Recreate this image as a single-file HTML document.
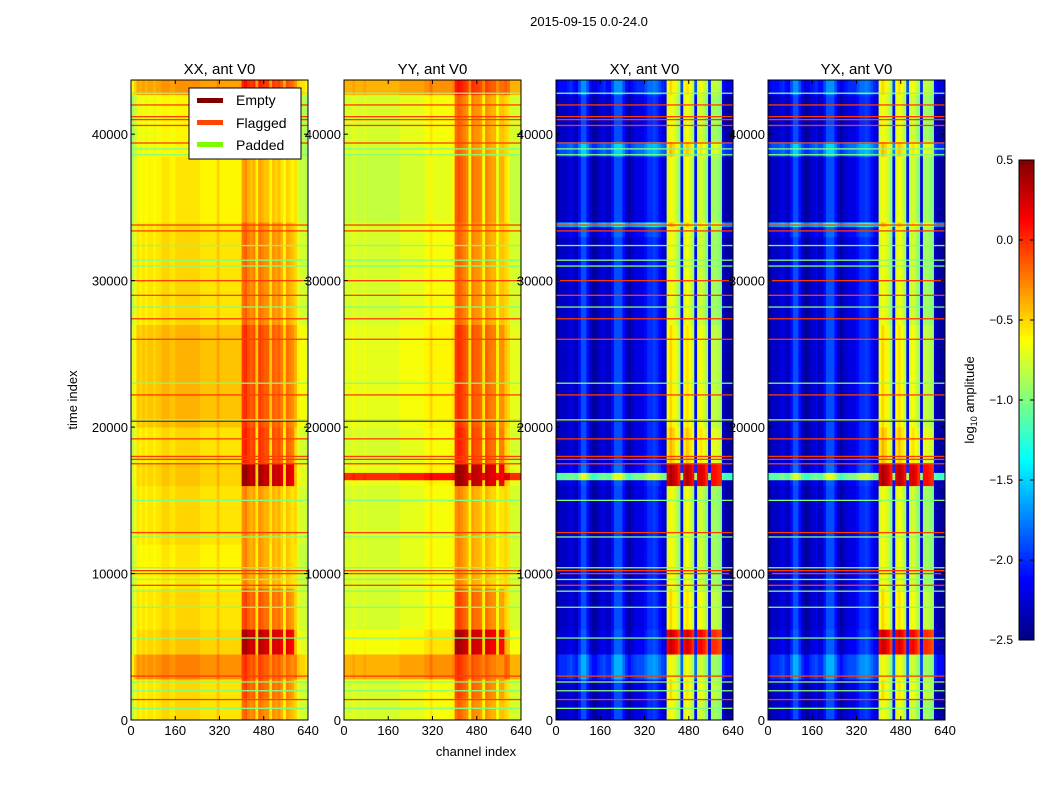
<!DOCTYPE html>
<html><head><meta charset="utf-8"><style>
body{margin:0;background:#fff;}
svg text{font-family:"Liberation Sans","DejaVu Sans",sans-serif;}
</style></head><body>
<svg id="fig" width="1050" height="800" viewBox="0 0 1050 800" xmlns="http://www.w3.org/2000/svg">
<rect width="1050" height="800" fill="#fff"/>
<text x="589" y="26" font-size="13" text-anchor="middle">2015-09-15 0.0-24.0</text>
<text x="476" y="756" font-size="13" text-anchor="middle">channel index</text>
<text x="0" y="0" font-size="13" text-anchor="middle" transform="translate(77,400) rotate(-90)">time index</text>
<g id="panels"></g>
<g id="cbar"></g>
<text x="0" y="0" font-size="13" text-anchor="middle" transform="translate(974,400) rotate(-90)">log<tspan font-size="9" dy="3">10</tspan><tspan dy="-3"> amplitude</tspan></text>
<g>
<rect x="189" y="88" width="112" height="71" fill="#fff" stroke="#000" stroke-width="1"/>
<rect x="197" y="98" width="26" height="5" fill="#800000"/>
<text x="236" y="105" font-size="14">Empty</text>
<rect x="197" y="120" width="26" height="5" fill="#ff4500"/>
<text x="236" y="128" font-size="14">Flagged</text>
<rect x="197" y="142" width="26" height="5" fill="#7cfc00"/>
<text x="236" y="150" font-size="14">Padded</text>
</g>
</svg>
<script>
// ---- data ----
const panelTitles = ["XX, ant V0","YY, ant V0","XY, ant V0","YX, ant V0"];
const xTicks = [0,160,320,480,640];
const yTicks = [0,10000,20000,30000,40000];
const cbTicks = [0.5,0.0,-0.5,-1.0,-1.5,-2.0,-2.5];
// channel profiles (log10 amp), 10-channel bins 0..630
const profXX = [-0.85,-0.7,-0.55,-0.6,-0.55,-0.6,-0.55,-0.55,-0.6,-0.55,-0.55,-0.5,-0.5,-0.5,-0.55,-0.55,-0.5,-0.5,-0.5,-0.5,-0.5,-0.5,-0.5,-0.5,-0.5,-0.55,-0.55,-0.55,-0.55,-0.55,-0.55,-0.45,-0.55,-0.55,-0.55,-0.55,-0.55,-0.55,-0.55,-0.55,-0.2,-0.15,-0.25,-0.3,-0.25,-0.55,-0.2,-0.25,-0.3,-0.3,-0.55,-0.3,-0.35,-0.3,-0.4,-0.6,-0.35,-0.4,-0.45,-0.5,-0.7,-0.75,-0.75,-0.8];
const profYY = [-0.75,-0.75,-0.75,-0.7,-0.75,-0.75,-0.75,-0.7,-0.75,-0.75,-0.75,-0.75,-0.75,-0.75,-0.75,-0.75,-0.75,-0.75,-0.75,-0.75,-0.7,-0.7,-0.7,-0.7,-0.7,-0.7,-0.7,-0.7,-0.7,-0.65,-0.65,-0.55,-0.65,-0.65,-0.65,-0.65,-0.65,-0.65,-0.65,-0.6,-0.2,-0.15,-0.2,-0.25,-0.3,-0.6,-0.25,-0.3,-0.3,-0.35,-0.6,-0.3,-0.35,-0.4,-0.4,-0.65,-0.45,-0.45,-0.5,-0.55,-0.75,-0.75,-0.75,-0.75];
const profXY = [-2.4,-2.3,-2.3,-2.3,-2.25,-2.2,-2.3,-2.35,-2.1,-1.9,-1.9,-2.1,-2.3,-2.4,-2.4,-2.3,-2.25,-2.2,-2.3,-2.3,-2.1,-1.9,-1.9,-1.9,-2.1,-2.3,-2.4,-2.3,-2.25,-2.2,-2.2,-2.2,-2.1,-2.0,-2.0,-1.95,-2.0,-2.1,-2.2,-2.25,-0.75,-0.6,-0.7,-0.8,-0.95,-2.1,-0.75,-0.65,-0.75,-0.9,-2.1,-0.8,-0.75,-0.85,-1.0,-2.2,-0.9,-0.9,-0.95,-1.0,-2.3,-2.4,-2.4,-2.4];
const profYX = [-2.4,-2.3,-2.3,-2.3,-2.25,-2.2,-2.3,-2.35,-2.1,-1.9,-1.9,-2.1,-2.3,-2.4,-2.4,-2.3,-2.25,-2.2,-2.3,-2.3,-2.1,-1.9,-1.9,-1.9,-2.1,-2.3,-2.4,-2.3,-2.25,-2.2,-2.2,-2.2,-2.1,-2.0,-2.0,-1.95,-2.0,-2.1,-2.2,-2.25,-0.75,-0.6,-0.7,-0.8,-0.95,-2.1,-0.75,-0.65,-0.75,-0.9,-2.1,-0.8,-0.75,-0.85,-1.0,-2.2,-0.9,-0.9,-0.95,-1.0,-2.3,-2.4,-2.4,-2.4];
// time bands: start times, with offsets for base channels and active stripe channels
const bandStarts = [0,1500,2800,4500,6200,9000,12000,16000,16400,16900,17500,20000,27000,33000,33700,34000,38500,39500,42700,43700];
const baseOffXX =   [0,0,0.25,0.05,0,-0.05,0,0.05,0.05,0.05,0,0.1,0,0,0,-0.05,-0.1,-0.1,0.2];
const stripeOffXX = [0,0.1,0.15,0.55,0.1,-0.1,-0.1,0.6,0.6,0.6,0.2,0.15,0,0,0,-0.15,0,0,0.25];
const baseOffYY =   [0,0,0.35,0.1,0,0,0,0.05,0.75,0.05,0,0.05,0,0,0,-0.05,0,0,0.35];
const stripeOffYY = [0,0.1,0.15,0.55,0.1,-0.1,-0.1,0.6,0.6,0.6,0.2,0.15,0,0,0,0.05,0,0,0.25];
const baseOffXY =   [0,0,0.3,0.05,0,0,0,0.05,1.2,0.1,0,0,0,0.1,0.7,0,0.4,0,0.2];
const stripeOffXY = [0,0.1,0,0.9,0.1,0,0,1.0,1.0,1.0,0.2,0.1,0,0,0.2,0,0.2,0,0.1];
// flag lines
const flaggedTimes = [1400,3000,9200,10000,10200,12800,17500,17800,18000,19200,22200,26000,27400,29000,30000,33400,33800,39400,40600,41000,41200,42000];
const paddedTimes = [800,2000,2600,5600,7700,8800,9600,10400,12500,15000,20500,23000,28200,31000,31400,32400,38600,39000,42800];
const emptyTimes = [20400];
const profiles = [profXX,profYY,profXY,profYX];
const baseOffs = [baseOffXX,baseOffYY,baseOffXY,baseOffXY];
const stripeOffs = [stripeOffXX,stripeOffYY,stripeOffXY,stripeOffXY];

// ---- scales ----
const panelX = [131,344,556,768], pW = 177, pTop = 80, pBot = 720;
const tMax = 43700, chMax = 640;
const yS = t => pBot - t/tMax*(pBot-pTop);
const vmin=-2.5, vmax=0.5;
function jet(v){
  let x=(v-vmin)/(vmax-vmin); x=Math.max(0,Math.min(1,x));
  const f=(a)=>Math.max(0,Math.min(1,a));
  const r=f(1.5-Math.abs(4*x-3)), g=f(1.5-Math.abs(4*x-2)), b=f(1.5-Math.abs(4*x-1));
  return `rgb(${Math.round(r*255)},${Math.round(g*255)},${Math.round(b*255)})`;
}
const NS="http://www.w3.org/2000/svg";
function mk(tag,attrs,parent){const e=document.createElementNS(NS,tag);for(const k in attrs)e.setAttribute(k,attrs[k]);parent.appendChild(e);return e;}
const panels=document.getElementById('panels');
panelTitles.forEach((title,p)=>{
  const x0=panelX[p]; const xS=ch=>x0+ch/chMax*pW;
  const g=mk('g',{},panels);
  
  
  const prof=profiles[p];
  for(let b=0;b<bandStarts.length-1;b++){
    const y1=yS(bandStarts[b+1]), y2=yS(bandStarts[b]);
    for(let c=0;c<prof.length;c++){
      const stripe = c>=40 && c<60 && prof[c] > (p<2?-0.5:-1.5);
      const v = prof[c] + (stripe?stripeOffs[p][b]:baseOffs[p][b]);
      const r=mk('rect',{x:xS(c*10).toFixed(2),y:y1.toFixed(2),width:(pW/64+0.4).toFixed(2),height:(y2-y1+0.4).toFixed(2),fill:jet(v)},g);
      
      
    }
  }
  flaggedTimes.forEach(t=>{const r=mk('rect',{x:x0,y:(yS(t)-0.6).toFixed(2),width:pW,height:1.3,fill:'#ff3c00'},g);
    
    });
  paddedTimes.forEach(t=>{const r=mk('rect',{x:x0,y:(yS(t)-0.6).toFixed(2),width:pW,height:1.3,fill:'#80ff80'},g);
    
    });
  emptyTimes.forEach(t=>{const r=mk('rect',{x:x0,y:(yS(t)-0.5).toFixed(2),width:pW,height:1,fill:'#800000'},g);
    
    });
  const fr=mk('rect',{x:x0,y:pTop,width:pW,height:pBot-pTop,fill:'none',stroke:'#000','stroke-width':1},g);
  
  
  const tt=mk('text',{x:x0+pW/2,y:pTop-6,'font-size':15,'text-anchor':'middle'},g); tt.textContent=title;
  
  
  xTicks.forEach(v=>{const X=xS(v);
    mk('line',{x1:X,x2:X,y1:pBot,y2:pBot-4,stroke:'#000'},g);mk('line',{x1:X,x2:X,y1:pTop,y2:pTop+4,stroke:'#000'},g);
    const t=mk('text',{x:X,y:pBot+15,'font-size':13,'text-anchor':'middle'},g);t.textContent=v;
    
    });
  yTicks.forEach(v=>{const Y=yS(v);
    mk('line',{x1:x0,x2:x0+4,y1:Y,y2:Y,stroke:'#000'},g);mk('line',{x1:x0+pW,x2:x0+pW-4,y1:Y,y2:Y,stroke:'#000'},g);
    const t=mk('text',{x:x0-3,y:Y+5,'font-size':13,'text-anchor':'end'},g);t.textContent=v;
    
    });
});
// colorbar
const cb=document.getElementById('cbar');
const cbT=160,cbB=640,cbX=1019,cbW=15;
const cbY=v=>cbB-(v-vmin)/(vmax-vmin)*(cbB-cbT);
for(let i=0;i<120;i++){const v=vmin+(i+0.5)*(vmax-vmin)/120;
  mk('rect',{x:cbX,y:(cbY(v)-2.3).toFixed(2),width:cbW,height:4.6,fill:jet(v)},cb);}
mk('rect',{x:cbX,y:cbT,width:cbW,height:cbB-cbT,fill:'none',stroke:'#000'},cb);
cbTicks.forEach(v=>{const Y=cbY(v);
  mk('line',{x1:cbX,x2:cbX+4,y1:Y,y2:Y,stroke:'#000'},cb);mk('line',{x1:cbX+cbW,x2:cbX+cbW-4,y1:Y,y2:Y,stroke:'#000'},cb);
  const t=mk('text',{x:1013,y:Y+4,'font-size':12,'text-anchor':'end'},cb);t.textContent=v.toFixed(1).replace('-','\u2212');
  
  });
</script>
</body></html>
